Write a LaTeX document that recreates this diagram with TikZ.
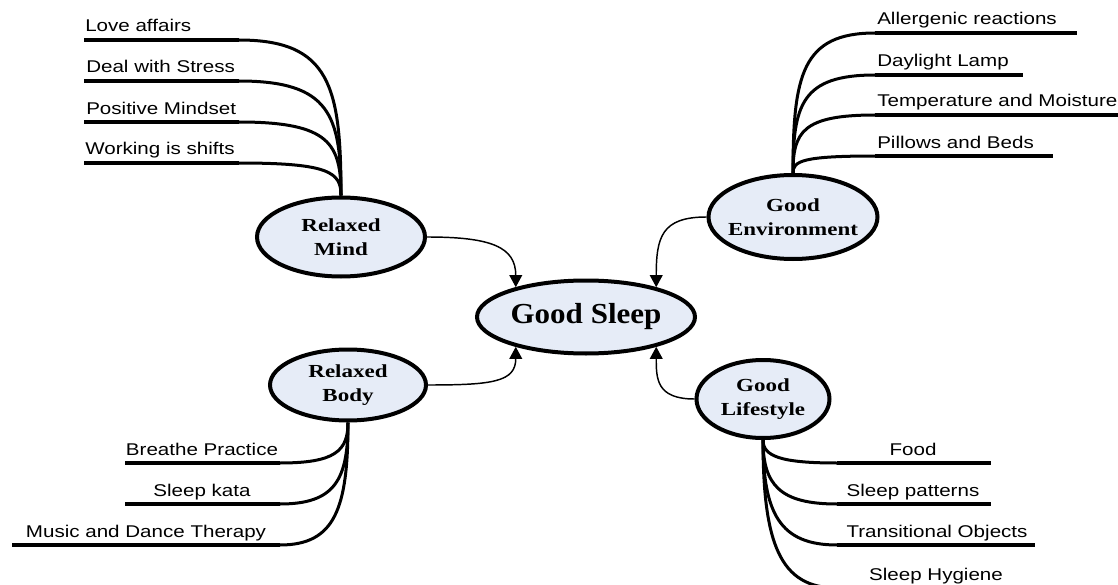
\documentclass[tikz,border=0pt]{standalone}
\usepackage{fontspec}
\usepackage{graphicx}
\setmainfont{Liberation Serif}
\newfontfamily\lsans{Liberation Sans}
\usetikzlibrary{shapes.geometric,arrows.meta}
\newcommand{\sx}[2]{\scalebox{#1}[1]{#2}}
\definecolor{bub}{RGB}{230,236,247}
\begin{document}
\begin{tikzpicture}[x=0.75pt,y=-0.75pt,
  bubble/.style={ellipse,draw=black,line width=3pt,fill=bub,inner sep=0pt},
  btext/.style={align=center,inner sep=0pt,font=\bfseries\fontsize{13.8}{18}\selectfont},
  mtext/.style={inner sep=0pt,font=\bfseries\fontsize{21.75}{26}\selectfont},
  leaf/.style={font=\lsans\fontsize{12.75}{15}\selectfont,inner sep=0pt},
  leafline/.style={line width=3pt},
  twig/.style={line width=2.25pt},
  link/.style={line width=1.1pt,-{Triangle[length=9pt,width=9.5pt]}}]
\useasboundingbox (0,0) rectangle (1118,585);
\clip (0,0) rectangle (1118,585);

% bubbles
\node[bubble,minimum width=163.5pt,minimum height=54.75pt] (gs) at (586,317) {};
\node[mtext] (gst) at (gs.center) {\sx{1.07}{Good Sleep}};
\node[bubble,minimum width=126pt,minimum height=59.25pt] (rm) at (341,237) {};
\node[btext] (rmt) at (rm.center) {\sx{1.25}{Relaxed}\\\sx{1.25}{Mind}};
\node[bubble,minimum width=126.75pt,minimum height=63pt] (ge) at (793,217) {};
\node[btext] (get) at (ge.center) {\sx{1.25}{Good}\\\sx{1.25}{Environment}};
\node[bubble,minimum width=117pt,minimum height=53.25pt] (rb) at (348,385) {};
\node[btext] (rbt) at (rb.center) {\sx{1.25}{Relaxed}\\\sx{1.25}{Body}};
\node[bubble,minimum width=99.75pt,minimum height=58.5pt] (gl) at (763,399) {};
\node[btext] (glt) at (gl.center) {\sx{1.25}{Good}\\\sx{1.25}{Lifestyle}};

% links to Good Sleep
\draw[link] (rm.east) .. controls +(65,0) and +(0,-40) .. (gs.157);
\draw[link] (ge.west) .. controls +(-45,0) and +(0,-50) .. (gs.23);
\draw[link] (rb.east) .. controls +(65,0) and +(0,35) .. (gs.-157);
\draw[link] (gl.west) .. controls +(-38,0) and +(0,32) .. (gs.-23);

% Relaxed Mind branches
\coordinate (rm1) at (239,40);  \coordinate (rm1e) at (84,40);
\coordinate (rm2) at (239,81);  \coordinate (rm2e) at (84,81);
\coordinate (rm3) at (239,122); \coordinate (rm3e) at (84,122);
\coordinate (rm4) at (239,163); \coordinate (rm4e) at (84,163);
\draw[twig] (rm.north) .. controls (341,86.5) and (330,40) .. (rm1);
\draw[twig] (rm.north) .. controls (341,115.2) and (330,81) .. (rm2);
\draw[twig] (rm.north) .. controls (341,143.9) and (330,122) .. (rm3);
\draw[twig] (rm.north) .. controls (341,172.6) and (330,163) .. (rm4);
\draw[leafline] (rm1) -- (rm1e);
\draw[leafline] (rm2) -- (rm2e);
\draw[leafline] (rm3) -- (rm3e);
\draw[leafline] (rm4) -- (rm4e);
\node[leaf,anchor=base west] (lrm1) at (85,32) {\sx{1.21}{Love affairs}};
\node[leaf,anchor=base west] (lrm2) at (86,73) {\sx{1.21}{Deal with Stress}};
\node[leaf,anchor=base west] (lrm3) at (86,114) {\sx{1.21}{Positive Mindset}};
\node[leaf,anchor=base west] (lrm4) at (85,155) {\sx{1.21}{Working is shifts}};

% Good Environment branches
\coordinate (ge1) at (875,33);  \coordinate (ge1e) at (1077,33);
\coordinate (ge2) at (875,75);  \coordinate (ge2e) at (1023,75);
\coordinate (ge3) at (875,115); \coordinate (ge3e) at (1120,115);
\coordinate (ge4) at (875,156); \coordinate (ge4e) at (1053,156);
\draw[twig] (ge.north) .. controls (793,75) and (802,33) .. (ge1);
\draw[twig] (ge.north) .. controls (793,104.4) and (802,75) .. (ge2);
\draw[twig] (ge.north) .. controls (793,132.4) and (802,115) .. (ge3);
\draw[twig] (ge.north) .. controls (793,161.1) and (802,156) .. (ge4);
\draw[leafline] (ge1) -- (ge1e);
\draw[leafline] (ge2) -- (ge2e);
\draw[leafline] (ge3) -- (ge3e);
\draw[leafline] (ge4) -- (ge4e);
\node[leaf,anchor=base west] (lge1) at (877,25) {\sx{1.21}{Allergenic reactions}};
\node[leaf,anchor=base west] (lge2) at (877,67) {\sx{1.21}{Daylight Lamp}};
\node[leaf,anchor=base west] (lge3) at (877,107) {\sx{1.21}{Temperature and Moisture}};
\node[leaf,anchor=base west] (lge4) at (877,148) {\sx{1.21}{Pillows and Beds}};

% Relaxed Body branches
\coordinate (rb1) at (280,463); \coordinate (rb1e) at (125,463);
\coordinate (rb2) at (280,504); \coordinate (rb2e) at (125,504);
\coordinate (rb3) at (280,545); \coordinate (rb3e) at (12,545);
\draw[twig] (rb.south) .. controls (348,451) and (335,463) .. (rb1);
\draw[twig] (rb.south) .. controls (348,479.7) and (335,504) .. (rb2);
\draw[twig] (rb.south) .. controls (348,508.4) and (335,545) .. (rb3);
\draw[leafline] (rb1) -- (rb1e);
\draw[leafline] (rb2) -- (rb2e);
\draw[leafline] (rb3) -- (rb3e);
\node[leaf,anchor=base] (lrb1) at (202,455) {\sx{1.21}{Breathe Practice}};
\node[leaf,anchor=base] (lrb2) at (202,496) {\sx{1.21}{Sleep kata}};
\node[leaf,anchor=base] (lrb3) at (146,537) {\sx{1.21}{Music and Dance Therapy}};

% Good Lifestyle branches
\coordinate (gl1) at (837,463); \coordinate (gl1e) at (991,463);
\coordinate (gl2) at (837,504); \coordinate (gl2e) at (991,504);
\coordinate (gl3) at (837,545); \coordinate (gl3e) at (1035,545);
\coordinate (gl4) at (837,588); \coordinate (gl4e) at (1035,588);
\draw[twig] (gl.south) .. controls (763,456) and (780,463) .. (gl1);
\draw[twig] (gl.south) .. controls (763,485) and (780,504) .. (gl2);
\draw[twig] (gl.south) .. controls (763,513.5) and (780,545) .. (gl3);
\draw[twig] (gl.south) .. controls (763,543.6) and (780,588) .. (gl4);
\draw[leafline] (gl1) -- (gl1e);
\draw[leafline] (gl2) -- (gl2e);
\draw[leafline] (gl3) -- (gl3e);
\draw[leafline] (gl4) -- (gl4e);
\node[leaf,anchor=base] (lgl1) at (913,455) {\sx{1.21}{Food}};
\node[leaf,anchor=base] (lgl2) at (913,496) {\sx{1.21}{Sleep patterns}};
\node[leaf,anchor=base] (lgl3) at (937,537) {\sx{1.21}{Transitional Objects}};
\node[leaf,anchor=base] (lgl4) at (936,580) {\sx{1.21}{Sleep Hygiene}};
\end{tikzpicture}
\end{document}
